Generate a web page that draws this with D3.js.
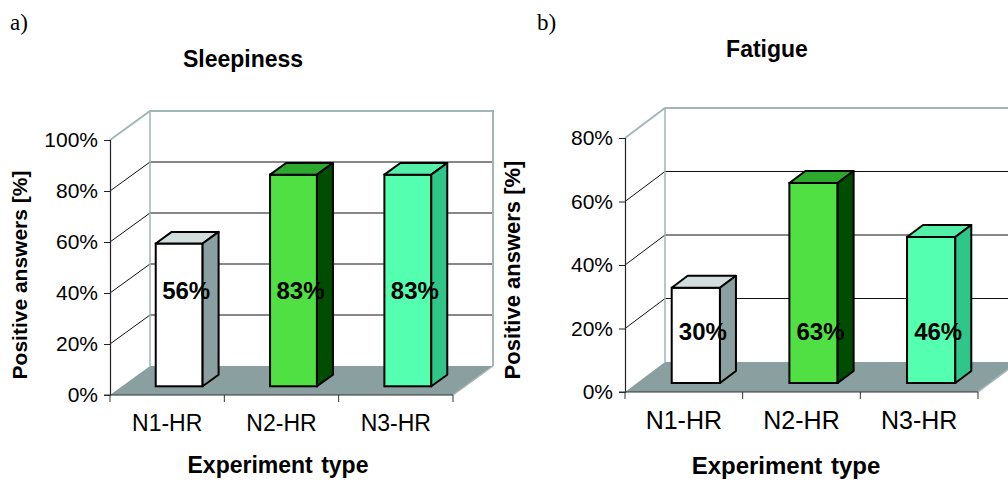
<!DOCTYPE html>
<html>
<head>
<meta charset="utf-8">
<script src="https://cdn.jsdelivr.net/npm/d3@7"></script>
<style>
  html, body { margin: 0; padding: 0; background: #fff; }
  svg { display: block; }
  text { font-family: "Liberation Sans", Arial, sans-serif; fill: #000; }
</style>
</head>
<body>
<svg id="chart" width="1008" height="480"></svg>
<script>
// Experiment categories and the share of positive answers per panel
const categories = ["N1-HR", "N2-HR", "N3-HR"];
const sleepinessValues = [56, 83, 83];
const fatigueValues = [30, 63, 46];
const sleepinessTicks = [0, 20, 40, 60, 80, 100];
const fatigueTicks = [0, 20, 40, 60, 80];

// Face colours of the 3D columns (front, top, side)
const barFront = ["#ffffff", "#50e044", "#55ffb0"];
const barTop   = ["#d2dede", "#2ca82c", "#52f0a8"];
const barSide  = ["#8a9f9f", "#004c00", "#30c68a"];

const svg = d3.select("#chart");

function drawPanel(cfg) {
  const g = svg.append("g");
  const { x0, x1, y0, yMax, dx, dy } = cfg;
  const maxV = cfg.ticks[cfg.ticks.length - 1];

  const y = d3.scaleLinear().domain([0, maxV]).range([y0, yMax]);
  const pad = 0.59;
  const x = d3.scaleBand().domain(categories).range([x0, x1])
    .paddingInner(pad).paddingOuter(pad / 2);
  const step = x.step();
  const inner = cfg.ticks.filter(t => t > 0 && t < maxV);

  // back wall grid lines
  g.append("g").selectAll("line")
    .data(inner)
    .join("line")
    .attr("x1", x0 + dx).attr("x2", x1 + dx)
    .attr("y1", d => y(d) + dy).attr("y2", d => y(d) + dy)
    .attr("stroke", "#111").attr("stroke-width", 1);

  // side wall grid lines
  g.append("g").selectAll("line")
    .data(inner)
    .join("line")
    .attr("x1", x0).attr("x2", x0 + dx)
    .attr("y1", d => y(d)).attr("y2", d => y(d) + dy)
    .attr("stroke", "#111").attr("stroke-width", 1);

  // wall frame
  const frame = "#a3b5b5";
  g.append("path")
    .attr("d", `M${x0},${y(maxV)} L${x0 + dx},${y(maxV) + dy} L${x1 + dx},${y(maxV) + dy} L${x1 + dx},${y0 + dy}`)
    .attr("fill", "none").attr("stroke", frame).attr("stroke-width", 2);
  g.append("line")
    .attr("x1", x0 + dx).attr("x2", x0 + dx)
    .attr("y1", y(maxV) + dy).attr("y2", y0 + dy)
    .attr("stroke", frame).attr("stroke-width", 1.5);

  // floor
  g.append("path")
    .attr("d", `M${x0},${y0} L${x1},${y0} L${x1 + dx},${y0 + dy} L${x0 + dx},${y0 + dy} Z`)
    .attr("fill", "#8a9f9f");
  g.append("line")
    .attr("x1", x1).attr("y1", y0).attr("x2", x1 + dx).attr("y2", y0 + dy)
    .attr("stroke", "#a9b6b6").attr("stroke-width", 1.5);

  // value axis on the front edge
  const yAxis = g.append("g")
    .attr("transform", `translate(${x0},0)`)
    .call(d3.axisLeft(y).tickValues(cfg.ticks).tickSize(6).tickPadding(6)
      .tickFormat(d => d + "%"));
  yAxis.select(".domain").attr("stroke", "#222").attr("stroke-width", 1.2);
  yAxis.selectAll(".tick line").attr("stroke", "#222");
  yAxis.selectAll("text").attr("font-size", cfg.tickFont);

  // category axis on the front edge
  g.append("line")
    .attr("x1", x0 - 6).attr("x2", x1).attr("y1", y0).attr("y2", y0)
    .attr("stroke", "#333").attr("stroke-width", 1.2);
  g.append("g").selectAll("line")
    .data(d3.range(categories.length + 1))
    .join("line")
    .attr("x1", i => x0 + i * step).attr("x2", i => x0 + i * step)
    .attr("y1", y0).attr("y2", y0 + 7)
    .attr("stroke", "#333").attr("stroke-width", 1);
  const xAxis = g.append("g")
    .attr("transform", `translate(0,${y0})`)
    .call(d3.axisBottom(x).tickSize(0).tickPadding(cfg.xLabelPad));
  xAxis.select(".domain").remove();
  xAxis.selectAll("text").attr("font-size", cfg.catFont);

  // 3D columns
  const f = 0.3, depth = 0.4;
  const bdx = dx * depth, bdy = dy * depth;
  const bars = g.append("g").selectAll("g")
    .data(cfg.values.map((v, i) => ({ v, i, c: categories[i] })))
    .join("g");
  const bx = d => x(d.c) + dx * f;
  const bw = x.bandwidth();
  const base = y0 + dy * f;
  const top = d => base - (y0 - y(d.v));
  bars.append("rect")
    .attr("x", bx).attr("y", top)
    .attr("width", bw).attr("height", d => base - top(d))
    .attr("fill", d => barFront[d.i]).attr("stroke", "#000").attr("stroke-width", 2);
  bars.append("path")
    .attr("d", d => `M${bx(d)},${top(d)} L${bx(d) + bw},${top(d)} L${bx(d) + bw + bdx},${top(d) + bdy} L${bx(d) + bdx},${top(d) + bdy} Z`)
    .attr("fill", d => barTop[d.i]).attr("stroke", "#000").attr("stroke-width", 2).attr("stroke-linejoin", "round");
  bars.append("path")
    .attr("d", d => `M${bx(d) + bw},${top(d)} L${bx(d) + bw + bdx},${top(d) + bdy} L${bx(d) + bw + bdx},${base + bdy} L${bx(d) + bw},${base} Z`)
    .attr("fill", d => barSide[d.i]).attr("stroke", "#000").attr("stroke-width", 2).attr("stroke-linejoin", "round");

  // value labels
  bars.append("text")
    .attr("x", d => bx(d) + bw / 2 + 7)
    .attr("y", y(cfg.labelLevel))
    .attr("dy", "0.35em")
    .attr("text-anchor", "middle")
    .attr("font-weight", "bold")
    .attr("font-size", cfg.labelFont)
    .text(d => d.v + "%");

  // titles
  g.append("text")
    .attr("x", cfg.titleX).attr("y", cfg.titleY)
    .attr("text-anchor", "middle").attr("font-weight", "bold").attr("font-size", 23)
    .text(cfg.title);
  g.append("text")
    .attr("x", cfg.tagX).attr("y", 30)
    .style("font-family", "'Liberation Serif', 'Times New Roman', serif").attr("font-size", 23)
    .text(cfg.tag);
  g.append("text")
    .attr("transform", `translate(${cfg.yTitleX},${cfg.yTitleY}) rotate(-90)`)
    .attr("text-anchor", "middle").attr("dy", "0.35em")
    .attr("font-weight", "bold").attr("font-size", cfg.yTitleFont)
    .text("Positive answers [%]");
  g.append("text")
    .attr("x", cfg.xTitleX).attr("y", cfg.xTitleY)
    .attr("text-anchor", "middle").attr("font-weight", "bold").attr("font-size", cfg.xTitleFont)
    .attr("word-spacing", 2)
    .text("Experiment type");
}

drawPanel({
  values: sleepinessValues, ticks: sleepinessTicks,
  x0: 110, x1: 453, y0: 395, yMax: 140, dx: 40, dy: -29,
  labelLevel: 41, tickFont: 21, catFont: 23, labelFont: 24, xLabelPad: 20,
  title: "Sleepiness", titleX: 243, titleY: 67,
  tag: "a)", tagX: 10,
  yTitleX: 20, yTitleY: 275, yTitleFont: 21,
  xTitleX: 278, xTitleY: 473, xTitleFont: 23
});

drawPanel({
  values: fatigueValues, ticks: fatigueTicks,
  x0: 625, x1: 978, y0: 392, yMax: 138, dx: 40, dy: -30,
  labelLevel: 19, tickFont: 21, catFont: 25, labelFont: 24, xLabelPad: 19,
  title: "Fatigue", titleX: 767, titleY: 57,
  tag: "b)", tagX: 537,
  yTitleX: 512, yTitleY: 270, yTitleFont: 22,
  xTitleX: 786, xTitleY: 474, xTitleFont: 24
});
</script>
</body>
</html>
